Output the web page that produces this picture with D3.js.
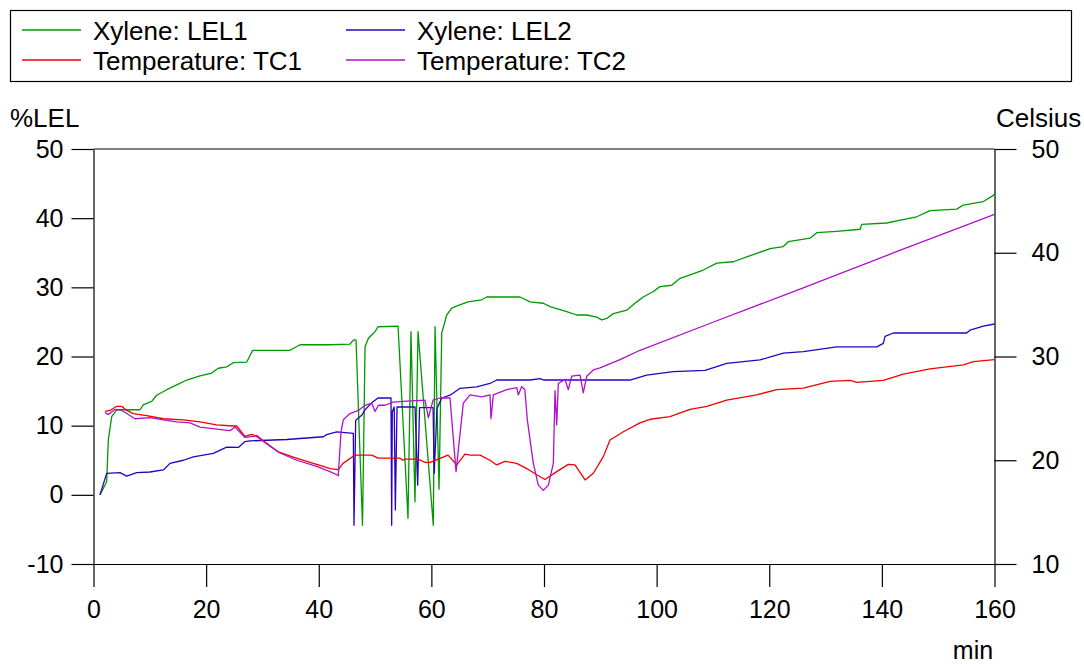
<!DOCTYPE html>
<html>
<head>
<meta charset="utf-8">
<script src="https://d3js.org/d3.v7.min.js"></script>
<style>
  body { margin: 0; background: #fff; }
  text { font-family: "Liberation Sans", Arial, sans-serif; fill: #000; }
</style>
</head>
<body>
<div id="chart"></div>
<script>
// [minutes, value]
const lel1 = [[1.15,0],[2.34,1.9],[2.63,7.9],[3.23,11.3],[4.12,12.3],[8.26,12.3],[8.84,13.0],[10.34,13.5],[11.22,14.4],[13.0,15.2],[14.78,15.9],[16.55,16.6],[18.91,17.2],[20.99,17.6],[22.16,18.3],[23.65,18.5],[24.83,19.1],[27.21,19.2],[28.27,20.9],[34.9,20.9],[36.67,21.7],[42.0,21.7],[45.55,21.8],[46.2,22.4],[46.62,22.4],[47.77,-4.4],[48.22,21.4],[48.8,22.6],[49.4,23.1],[50.0,23.6],[50.52,24.3],[54.08,24.4],[55.85,-3.4],[56.38,23.6],[57.09,-1.0],[57.63,23.6],[60.34,-4.4],[60.65,24.3],[61.36,0.8],[61.84,23.4],[62.73,26.0],[63.61,27.0],[64.78,27.4],[66.5,27.9],[68.94,28.2],[69.83,28.6],[75.74,28.6],[77.52,27.9],[79.88,27.7],[81.07,27.2],[84.03,26.5],[85.81,26.0],[87.59,26.0],[89.36,25.7],[90.25,25.3],[91.14,25.5],[92.31,26.2],[94.69,26.7],[96.47,27.9],[97.64,28.6],[99.41,29.4],[100.6,30.1],[102.68,30.3],[104.16,31.3],[105.93,31.8],[108.29,32.5],[110.67,33.5],[113.62,33.7],[116.0,34.4],[117.77,34.9],[120.14,35.6],[122.5,35.9],[123.39,36.6],[127.24,37.1],[128.43,37.9],[131.98,38.1],[136.13,38.4],[136.42,39.1],[140.86,39.3],[142.64,39.6],[146.19,40.2],[148.55,41.1],[153.29,41.3],[154.47,41.9],[158.02,42.4],[159.79,43.3],[160,43.5]];

const lel2 = [[1.15,0],[2.34,3.1],[4.71,3.2],[5.9,2.7],[7.67,3.2],[10.03,3.3],[12.4,3.6],[13.59,4.55],[15.95,5.0],[17.72,5.5],[19.5,5.75],[21.28,6.0],[23.65,6.9],[25.72,6.85],[26.9,7.7],[27.79,7.8],[34.31,8.0],[40.81,8.4],[41.41,8.7],[43.19,9.1],[46.14,8.9],[46.26,-4.4],[46.56,10.8],[47.63,11.5],[48.22,12.3],[49.41,13.3],[50.52,14.0],[52.83,14.0],[52.95,-4.4],[53.06,12.0],[53.4,12.7],[53.6,-2.2],[53.9,12.7],[57.1,12.7],[57.57,1.4],[57.9,12.6],[60.3,12.6],[60.5,3.1],[61.0,12.5],[61.84,14.0],[63.31,14.4],[65.09,15.4],[68.05,15.6],[70.41,16.1],[71.6,16.6],[77.52,16.6],[79.29,16.8],[80.0,16.6],[95.28,16.6],[98.23,17.3],[102.96,17.8],[108.59,18.0],[112.45,19.0],[118.36,19.5],[122.5,20.5],[126.05,20.7],[131.98,21.4],[139.09,21.4],[140.26,21.9],[140.56,22.9],[142.03,23.4],[155.06,23.4],[155.65,23.8],[158.02,24.4],[160,24.7]];

const tc1 = [[2.04,24.7],[2.93,24.8],[4.12,25.2],[5.01,25.2],[5.9,24.8],[7.07,24.5],[9.45,24.3],[12.4,24.0],[15.95,23.9],[18.91,23.7],[21.88,23.4],[24.83,23.3],[25.43,23.3],[26.9,22.3],[28.09,22.5],[28.98,22.3],[30.76,21.6],[32.82,20.8],[35.48,20.3],[38.45,19.8],[40.81,19.4],[42.0,19.2],[43.47,19.1],[44.31,19.7],[46.44,20.5],[49.41,20.5],[50.52,20.2],[54.43,20.2],[54.96,20.0],[55.32,20.1],[57.63,20.1],[58.87,19.8],[59.76,19.8],[61.23,20.1],[62.96,20.5],[64.5,19.55],[65.97,20.6],[66.86,20.5],[68.64,20.5],[70.41,20.0],[71.6,19.55],[73.08,19.9],[75.16,19.7],[76.93,19.2],[78.71,18.6],[80.18,18.15],[82.26,18.9],[84.32,19.6],[85.51,19.55],[87.29,18.1],[88.76,18.75],[90.53,20.35],[91.72,21.95],[94.09,22.75],[97.05,23.6],[98.83,23.95],[102.38,24.2],[105.93,24.9],[108.9,25.2],[112.45,25.8],[117.77,26.3],[121.33,26.8],[126.05,26.95],[130.8,27.6],[134.35,27.7],[135.54,27.5],[140.26,27.7],[143.81,28.3],[148.55,28.8],[154.47,29.2],[156.24,29.5],[160,29.7]];

const tc2 = [[2.04,24.6],[2.63,24.4],[3.82,24.9],[5.01,24.8],[5.9,24.5],[7.37,24.0],[10.03,24.1],[12.4,23.9],[14.78,23.7],[17.14,23.6],[18.91,23.2],[21.88,23.0],[24.24,22.85],[25.13,23.2],[26.9,22.2],[28.39,22.3],[28.98,22.4],[30.76,21.6],[33.12,20.7],[36.09,20.0],[39.64,19.4],[42.0,18.9],[43.19,18.6],[43.47,18.5],[43.95,22.75],[44.36,23.9],[45.55,24.5],[47.03,24.8],[48.22,25.3],[49.41,25.5],[50.0,24.7],[50.6,25.3],[51.77,25.3],[53.19,25.6],[55.62,25.7],[58.87,25.8],[59.46,24.1],[60.3,25.8],[61.53,26.0],[63.31,26.0],[64.38,18.9],[65.67,25.5],[66.86,26.3],[68.94,26.1],[70.41,26.3],[70.59,24.0],[71.0,26.3],[73.38,26.8],[75.16,27.0],[75.44,26.3],[76.04,27.1],[76.6,26.8],[77.04,23.9],[78.1,19.7],[78.99,17.6],[79.88,17.1],[80.77,17.6],[81.66,19.7],[81.96,26.7],[82.26,23.4],[82.54,27.4],[83.73,27.8],[84.32,26.8],[84.92,28.1],[86.4,28.2],[86.98,26.5],[87.59,28.1],[88.76,28.7],[89.95,28.9],[93.5,29.7],[97.05,30.6],[110,33.3],[125,36.4],[142.6,40.1],[160,43.7]];

const xTicks = [0, 20, 40, 60, 80, 100, 120, 140, 160];
const lelTicks = [-10, 0, 10, 20, 30, 40, 50];
const celTicks = [10, 20, 30, 40, 50];

const series = [
  {name: "Xylene: LEL1", data: lel1, color: "#009a00", axis: "left"},
  {name: "Xylene: LEL2", data: lel2, color: "#2a00c0", axis: "left"},
  {name: "Temperature: TC1", data: tc1, color: "#f00000", axis: "right"},
  {name: "Temperature: TC2", data: tc2, color: "#b010cc", axis: "right"}
];

const width = 1084, height = 665;
const x0 = 93.5, x1 = 994.5, yTop = 149, yBot = 564;

const svg = d3.select("#chart").append("svg")
  .attr("width", width)
  .attr("height", height);

const x = d3.scaleLinear().domain([0, 160]).range([x0, x1]);
const yL = d3.scaleLinear().domain([-10, 50]).range([yBot, yTop]);
const yR = d3.scaleLinear().domain([10, 50]).range([yBot, yTop]);

// legend
svg.append("rect")
  .attr("x", 10.5).attr("y", 10.5)
  .attr("width", 1061).attr("height", 71)
  .attr("fill", "none").attr("stroke", "#000").attr("stroke-width", 1.2);

const legendPos = [[22, 30], [346, 30], [22, 60], [346, 60]];
series.forEach((s, i) => {
  const [lx, ly] = legendPos[i];
  svg.append("line")
    .attr("x1", lx).attr("x2", lx + 59)
    .attr("y1", ly).attr("y2", ly)
    .attr("stroke", s.color).attr("stroke-width", 1.3);
  svg.append("text")
    .attr("x", lx + 71).attr("y", ly + 9.5)
    .attr("font-size", 26)
    .text(s.name);
});

// axis titles
svg.append("text").attr("x", 10).attr("y", 127).attr("font-size", 26).text("%LEL");
svg.append("text").attr("x", 996).attr("y", 127).attr("font-size", 26).text("Celsius");
svg.append("text").attr("x", 973).attr("y", 659).attr("font-size", 25)
  .attr("text-anchor", "middle").text("min");

// axes
const plain = d => String(d);
const styleAxis = g => {
  g.selectAll("path, line").attr("stroke", "#000").attr("stroke-width", 1.2);
  g.selectAll("text").attr("font-size", 25).attr("fill", "#000")
    .attr("font-family", "Liberation Sans, Arial, sans-serif");
};

svg.append("g")
  .attr("transform", `translate(${x0},0)`)
  .call(d3.axisLeft(yL).tickValues(lelTicks).tickFormat(plain).tickSize(22).tickSizeOuter(0).tickPadding(8))
  .call(styleAxis);

svg.append("g")
  .attr("transform", `translate(${x1},0)`)
  .call(d3.axisRight(yR).tickValues(celTicks).tickFormat(plain).tickSize(22).tickSizeOuter(0).tickPadding(15))
  .call(styleAxis);

svg.append("g")
  .attr("transform", `translate(0,${yBot})`)
  .call(d3.axisBottom(x).tickValues(xTicks).tickFormat(plain).tickSize(23).tickSizeOuter(0).tickPadding(13))
  .call(styleAxis);

svg.append("line")
  .attr("x1", x0).attr("x2", x1)
  .attr("y1", yTop).attr("y2", yTop)
  .attr("stroke", "#000").attr("stroke-width", 1.2);

// lines
const plot = svg.append("g");
series.forEach(s => {
  const y = s.axis === "left" ? yL : yR;
  const line = d3.line()
    .x(d => x(d[0]))
    .y(d => y(d[1]));
  plot.append("path")
    .datum(s.data)
    .attr("fill", "none")
    .attr("stroke", s.color)
    .attr("stroke-width", 1.3)
    .attr("stroke-linejoin", "round")
    .attr("d", line);
});
</script>
</body>
</html>
